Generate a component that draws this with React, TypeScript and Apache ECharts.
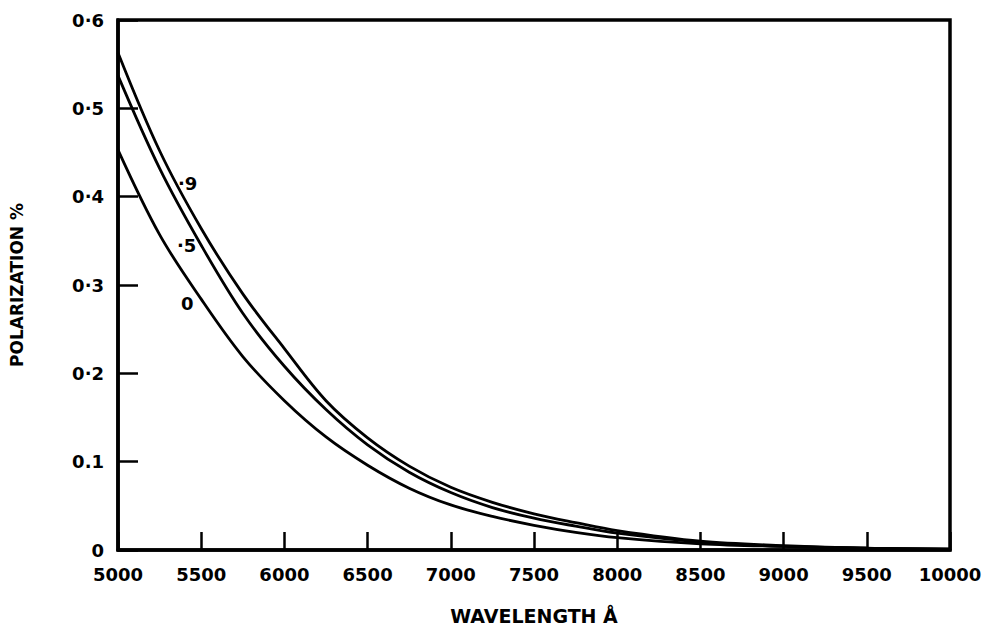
import React, { useEffect, useRef } from "react";
import * as echarts from "echarts";

const wavelengths = [5000, 5250, 5500, 5750, 6000, 6250, 6500, 6750, 7000, 7250, 7500, 7750, 8000, 8500, 9000, 9500, 10000];
const pol09 = [0.563, 0.452, 0.364, 0.29, 0.228, 0.169, 0.127, 0.095, 0.071, 0.054, 0.041, 0.031, 0.022, 0.01, 0.005, 0.002, 0.001];
const pol05 = [0.537, 0.432, 0.345, 0.268, 0.208, 0.159, 0.119, 0.088, 0.065, 0.048, 0.036, 0.027, 0.019, 0.009, 0.004, 0.002, 0.001];
const pol00 = [0.453, 0.357, 0.284, 0.219, 0.169, 0.128, 0.096, 0.07, 0.051, 0.038, 0.028, 0.02, 0.014, 0.007, 0.004, 0.002, 0.001];
const yTickLabels: Record<string, string> = {
  "0": "0",
  "0.1": "0.1",
  "0.2": "0·2",
  "0.3": "0·3",
  "0.4": "0·4",
  "0.5": "0·5",
  "0.6": "0·6",
};
const curveLabels = [
  { text: "·9", x: 178, y: 183 },
  { text: "·5", x: 177, y: 245 },
  { text: "0", x: 181, y: 303 },
];

const FONT = "DejaVu Sans";

export default function App() {
  const ref = useRef<HTMLDivElement>(null);
  useEffect(() => {
    if (!ref.current) return;
    const chart = echarts.init(ref.current, undefined, { renderer: "svg" });
    const mk = (vals: number[], name: string) => ({
      type: "line",
      name,
      data: wavelengths.map((w, i) => [w, vals[i]]),
      smooth: 0.35,
      symbol: "none",
      lineStyle: { color: "#000", width: 2.8 },
    });
    chart.setOption({
      animation: false,
      backgroundColor: "#fff",
      grid: {
        left: 113,
        right: 35,
        top: 20,
        bottom: 78,
        show: true,
        borderColor: "#000",
        borderWidth: 3.5,
      },
      xAxis: {
        type: "value",
        min: 5000,
        max: 10000,
        interval: 500,
        name: "WAVELENGTH Å",
        nameLocation: "middle",
        nameGap: 56,
        nameTextStyle: { fontFamily: FONT, fontWeight: "bold", fontSize: 19, color: "#000" },
        axisLine: { show: true, lineStyle: { color: "#000", width: 3.5 } },
        axisTick: { show: true, inside: true, length: 18, lineStyle: { color: "#000", width: 2.5 } },
        axisLabel: {
          fontFamily: FONT,
          fontWeight: "bold",
          fontSize: 18,
          color: "#000",
          margin: 15,
          formatter: (v: number) => String(v),
        },
        splitLine: { show: false },
      },
      yAxis: {
        type: "value",
        min: 0,
        max: 0.6,
        interval: 0.1,
        name: "POLARIZATION %",
        nameLocation: "middle",
        nameGap: 93,
        nameTextStyle: { fontFamily: FONT, fontWeight: "bold", fontSize: 17, color: "#000" },
        axisLine: { show: true, lineStyle: { color: "#000", width: 3.5 } },
        axisTick: { show: true, inside: true, length: 20, lineStyle: { color: "#000", width: 2.5 } },
        axisLabel: {
          fontFamily: FONT,
          fontWeight: "bold",
          fontSize: 18,
          color: "#000",
          margin: 14,
          formatter: (v: number) => yTickLabels[String(Math.round(v * 10) / 10)] ?? String(v),
        },
        splitLine: { show: false },
      },
      series: [mk(pol09, ".9"), mk(pol05, ".5"), mk(pol00, "0")],
      graphic: curveLabels.map((l) => ({
        type: "text",
        x: l.x,
        y: l.y,
        style: {
          text: l.text,
          fontFamily: FONT,
          fontWeight: "bold",
          fontSize: 18,
          fill: "#000",
          textAlign: "left",
          textVerticalAlign: "middle",
        },
      })),
    });
    return () => chart.dispose();
  }, []);
  return <div ref={ref} style={{ width: 985, height: 630, position: "absolute", left: 0, top: 0 }} />;
}
